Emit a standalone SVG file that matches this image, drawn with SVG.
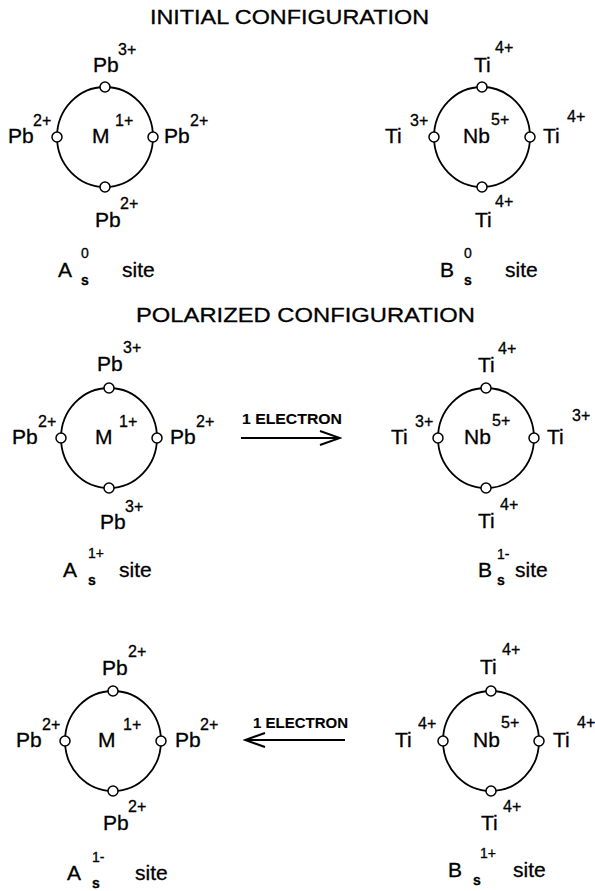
<svg xmlns="http://www.w3.org/2000/svg" width="595" height="891" viewBox="0 0 595 891">
<style>
text{font-family:"Liberation Sans",Arial,Helvetica,sans-serif;fill:#000;stroke:#000;stroke-width:0.3}
.t{font-size:21px}
.lb{font-size:21px}
.sup{font-size:16px}
.ss{font-size:14px}
.sb{font-size:14px;font-weight:bold}
.ar{font-size:14px;font-weight:bold;stroke-width:0.1}
.ring{fill:none;stroke:#000;stroke-width:1.8}
.dot{fill:#fff;stroke:#000;stroke-width:1.5}
.conn{stroke:#000;stroke-width:2;fill:none}
</style>
<defs>
<marker id="ah" viewBox="0 0 24 16" refX="22" refY="8" markerWidth="24" markerHeight="16" markerUnits="userSpaceOnUse" orient="auto">
<path d="M2,1 L22,8 L2,15" fill="none" stroke="#000" stroke-width="2"/>
</marker>
</defs>
<rect width="595" height="891" fill="#fff"/>
<text class="t" x="150" y="24" textLength="279" lengthAdjust="spacingAndGlyphs">INITIAL CONFIGURATION</text>
<text class="t" x="136" y="322" textLength="339" lengthAdjust="spacingAndGlyphs">POLARIZED CONFIGURATION</text>

<g id="A0">
<ellipse class="ring" cx="105" cy="137" rx="48" ry="50"/>
<circle class="dot" cx="105" cy="87" r="5"/><circle class="dot" cx="57" cy="137" r="5"/><circle class="dot" cx="153" cy="137" r="5"/><circle class="dot" cx="105" cy="187" r="5"/>
<text class="lb" x="93" y="72">Pb<tspan class="sup" x="118" y="55">3+</tspan></text>
<text class="lb" x="8" y="143">Pb<tspan class="sup" x="33" y="126">2+</tspan></text>
<text class="lb" x="92" y="143">M<tspan class="sup" x="115" y="126">1+</tspan></text>
<text class="lb" x="164" y="143">Pb<tspan class="sup" x="190" y="126">2+</tspan></text>
<text class="lb" x="95" y="227">Pb<tspan class="sup" x="120" y="209">2+</tspan></text>
<text class="lb" x="58" y="277">A<tspan class="ss" x="81" y="258">0</tspan><tspan class="sb" x="81" y="285">s</tspan><tspan x="122" y="277">site</tspan></text>
</g>

<g id="B0">
<ellipse class="ring" cx="482" cy="137" rx="48" ry="50"/>
<circle class="dot" cx="482" cy="87" r="5"/><circle class="dot" cx="434" cy="137" r="5"/><circle class="dot" cx="530" cy="137" r="5"/><circle class="dot" cx="482" cy="187" r="5"/>
<text class="lb" x="474" y="72">Ti<tspan class="sup" x="495" y="53">4+</tspan></text>
<text class="lb" x="385" y="143">Ti<tspan class="sup" x="410" y="126">3+</tspan></text>
<text class="lb" x="463" y="143">Nb<tspan class="sup" x="491" y="125">5+</tspan></text>
<text class="lb" x="543" y="143">Ti<tspan class="sup" x="567" y="122">4+</tspan></text>
<text class="lb" x="475" y="227">Ti<tspan class="sup" x="495" y="207">4+</tspan></text>
<text class="lb" x="440" y="277">B<tspan class="ss" x="464" y="258">0</tspan><tspan class="sb" x="464" y="285">s</tspan><tspan x="505" y="277">site</tspan></text>
</g>

<g id="A1plus">
<ellipse class="ring" cx="109" cy="438" rx="48" ry="50"/>
<circle class="dot" cx="109" cy="388" r="5"/><circle class="dot" cx="61" cy="438" r="5"/><circle class="dot" cx="157" cy="438" r="5"/><circle class="dot" cx="109" cy="488" r="5"/>
<text class="lb" x="97" y="371">Pb<tspan class="sup" x="123" y="353">3+</tspan></text>
<text class="lb" x="12" y="444">Pb<tspan class="sup" x="38" y="427">2+</tspan></text>
<text class="lb" x="95" y="444">M<tspan class="sup" x="119" y="427">1+</tspan></text>
<text class="lb" x="170" y="444">Pb<tspan class="sup" x="196" y="427">2+</tspan></text>
<text class="lb" x="100" y="529">Pb<tspan class="sup" x="125" y="512">3+</tspan></text>
<text class="lb" x="63" y="577">A<tspan class="ss" x="88" y="558">1+</tspan><tspan class="sb" x="88" y="585">s</tspan><tspan x="119" y="577">site</tspan></text>
</g>

<g id="B1minus">
<ellipse class="ring" cx="486" cy="438" rx="48" ry="50"/>
<circle class="dot" cx="486" cy="388" r="5"/><circle class="dot" cx="438" cy="438" r="5"/><circle class="dot" cx="534" cy="438" r="5"/><circle class="dot" cx="486" cy="488" r="5"/>
<text class="lb" x="478" y="372">Ti<tspan class="sup" x="498" y="354">4+</tspan></text>
<text class="lb" x="391" y="444">Ti<tspan class="sup" x="415" y="427">3+</tspan></text>
<text class="lb" x="464" y="444">Nb<tspan class="sup" x="492" y="426">5+</tspan></text>
<text class="lb" x="547" y="444">Ti<tspan class="sup" x="572" y="421">3+</tspan></text>
<text class="lb" x="478" y="528">Ti<tspan class="sup" x="500" y="510">4+</tspan></text>
<text class="lb" x="478" y="577">B<tspan class="ss" x="497" y="559">1-</tspan><tspan class="sb" x="497" y="585">s</tspan><tspan x="515" y="577">site</tspan></text>
</g>

<g id="A1minus">
<ellipse class="ring" cx="113" cy="741" rx="48" ry="50"/>
<circle class="dot" cx="113" cy="691" r="5"/><circle class="dot" cx="65" cy="741" r="5"/><circle class="dot" cx="161" cy="741" r="5"/><circle class="dot" cx="113" cy="791" r="5"/>
<text class="lb" x="102" y="675">Pb<tspan class="sup" x="128" y="657">2+</tspan></text>
<text class="lb" x="16" y="747">Pb<tspan class="sup" x="42" y="730">2+</tspan></text>
<text class="lb" x="98" y="747">M<tspan class="sup" x="123" y="730">1+</tspan></text>
<text class="lb" x="175" y="747">Pb<tspan class="sup" x="200" y="730">2+</tspan></text>
<text class="lb" x="103" y="830">Pb<tspan class="sup" x="128" y="812">2+</tspan></text>
<text class="lb" x="67" y="880">A<tspan class="ss" x="92" y="862">1-</tspan><tspan class="sb" x="92" y="888">s</tspan><tspan x="135" y="880">site</tspan></text>
</g>

<g id="B1plus">
<ellipse class="ring" cx="491" cy="741" rx="48" ry="50"/>
<circle class="dot" cx="491" cy="691" r="5"/><circle class="dot" cx="443" cy="741" r="5"/><circle class="dot" cx="539" cy="741" r="5"/><circle class="dot" cx="491" cy="791" r="5"/>
<text class="lb" x="480" y="674">Ti<tspan class="sup" x="502" y="655">4+</tspan></text>
<text class="lb" x="395" y="747">Ti<tspan class="sup" x="418" y="729">4+</tspan></text>
<text class="lb" x="473" y="747">Nb<tspan class="sup" x="501" y="728">5+</tspan></text>
<text class="lb" x="553" y="747">Ti<tspan class="sup" x="577" y="728">4+</tspan></text>
<text class="lb" x="481" y="830">Ti<tspan class="sup" x="503" y="812">4+</tspan></text>
<text class="lb" x="448" y="877">B<tspan class="ss" x="480" y="858">1+</tspan><tspan class="sb" x="473" y="885">s</tspan><tspan x="513" y="877">site</tspan></text>
</g>

<g id="connectors">
<line class="conn" x1="241" y1="438" x2="340" y2="438" marker-end="url(#ah)"/>
<text class="ar" x="242" y="424" textLength="100" lengthAdjust="spacingAndGlyphs">1 ELECTRON</text>
<line class="conn" x1="345" y1="740" x2="245" y2="740" marker-end="url(#ah)"/>
<text class="ar" x="253" y="728" textLength="95" lengthAdjust="spacingAndGlyphs">1 ELECTRON</text>
</g>
</svg>
